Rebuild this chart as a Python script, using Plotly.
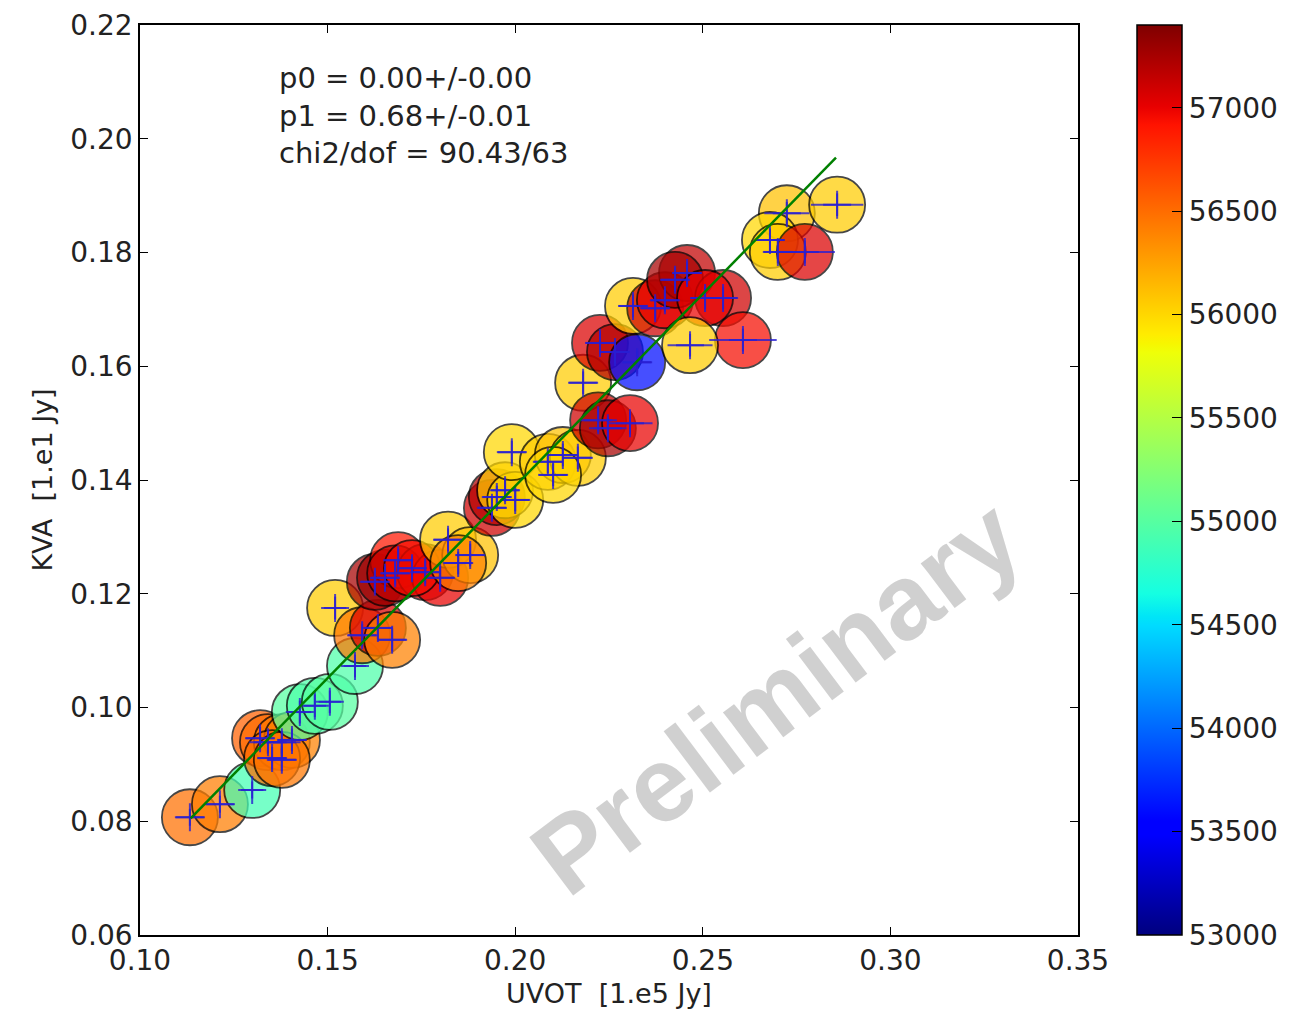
import plotly.graph_objects as go

# ---- data ----
uvot = [0.1133, 0.1213, 0.1299, 0.1320, 0.1341, 0.1378, 0.1405, 0.1352, 0.1378,
        0.1426, 0.1466, 0.1506, 0.1573, 0.1520, 0.1592, 0.1634, 0.1672, 0.1626,
        0.1653, 0.1688, 0.1680, 0.1760, 0.1800, 0.1725, 0.1821, 0.1880, 0.1848,
        0.1938, 0.1951, 0.1973, 0.2000, 0.1991, 0.2087, 0.2127, 0.2167, 0.2101,
        0.2181, 0.2221, 0.2247, 0.2306, 0.2226, 0.2266, 0.2325, 0.2314, 0.2373,
        0.2399, 0.2458, 0.2426, 0.2554, 0.2506, 0.2607, 0.2466, 0.2724,
        0.2679, 0.2700, 0.2772, 0.2858]
kva = [0.0807, 0.0830, 0.0855, 0.0946, 0.0939, 0.0939, 0.0943, 0.0911, 0.0908,
       0.0992, 0.1003, 0.1010, 0.1073, 0.1175, 0.1127, 0.1140, 0.1119, 0.1221,
       0.1228, 0.1259, 0.1236, 0.1238, 0.1228, 0.1245, 0.1295, 0.1268, 0.1254,
       0.1351, 0.1370, 0.1382, 0.1365, 0.1449, 0.1432, 0.1444, 0.1439, 0.1409,
       0.1571, 0.1505, 0.1491, 0.1500, 0.1641, 0.1625, 0.1607, 0.1706, 0.1702,
       0.1716, 0.1764, 0.1752, 0.1720, 0.1720, 0.1646, 0.1637, 0.1869,
       0.1822, 0.1801, 0.1801, 0.1884]
mjd = [56480, 56420, 54900, 56550, 56500, 56450, 56400, 56500, 56450,
       55000, 54950, 55000, 54950, 56050, 56450, 57050, 56400, 57250,
       57300, 56900, 57150, 57100, 57000, 56950, 56050, 56100, 56400,
       57100, 57200, 56050, 56000, 56000, 56050, 56100, 56050, 56000,
       56050, 57100, 57250, 57000, 57050, 57200, 53600, 56050, 57100,
       57000, 57150, 57250, 57100, 57000, 56950, 56050, 56100,
       56000, 56050, 57050, 56050]
uvot_err = [0.004, 0.004, 0.003, 0.004, 0.005, 0.005, 0.004, 0.004, 0.004,
            0.003, 0.003, 0.003, 0.003, 0.003, 0.004, 0.004, 0.004, 0.004,
            0.004, 0.004, 0.004, 0.004, 0.004, 0.004, 0.004, 0.004, 0.004,
            0.004, 0.004, 0.004, 0.004, 0.004, 0.004, 0.004, 0.004, 0.004,
            0.004, 0.005, 0.005, 0.006, 0.004, 0.004, 0.004, 0.004, 0.004,
            0.004, 0.004, 0.004, 0.004, 0.004, 0.009, 0.006, 0.006,
            0.004, 0.004, 0.008, 0.007]
kva_err = [0.0015] * 3 + [0.002] * 54

fit_x = [0.1135, 0.2855]
fit_y = [0.0805, 0.1967]

fit_text = "p0 = 0.00+/-0.00<br>p1 = 0.68+/-0.01<br>chi2/dof = 90.43/63"
cbar_ticks = [53000, 53500, 54000, 54500, 55000, 55500, 56000, 56500, 57000]

jet = [
    [0.0, "rgb(0,0,127)"], [0.11, "rgb(0,0,255)"], [0.125, "rgb(0,0,255)"],
    [0.34, "rgb(0,219,255)"], [0.35, "rgb(0,229,247)"], [0.375, "rgb(21,255,226)"],
    [0.64, "rgb(239,255,8)"], [0.65, "rgb(247,246,0)"], [0.66, "rgb(255,236,0)"],
    [0.89, "rgb(255,19,0)"], [0.91, "rgb(232,0,0)"], [1.0, "rgb(127,0,0)"],
]

FONT = "DejaVu Sans"
CROSS = "rgba(40,30,210,0.8)"

fig = go.Figure()

fig.add_trace(go.Scatter(
    x=uvot, y=kva, mode="markers",
    marker=dict(size=56, color=mjd, colorscale=jet, cmin=53000, cmax=57400,
                opacity=0.72, line=dict(color="black", width=1.8),
                colorbar=dict(x=1.063, xanchor="left", y=0.5, yanchor="middle",
                              len=1.0, lenmode="fraction", thickness=45,
                              outlinecolor="black", outlinewidth=1.5,
                              tickvals=cbar_ticks, ticktext=[str(t) for t in cbar_ticks],
                              ticks="inside", ticklen=10, tickcolor="black",
                              tickfont=dict(family=FONT, size=28, color="#222"),
                              ypad=0, xpad=0)),
    showlegend=False, hoverinfo="skip",
))

fig.add_trace(go.Scatter(
    x=uvot, y=kva, mode="markers",
    marker=dict(symbol="cross-thin", size=20, line=dict(color=CROSS, width=2)),
    error_x=dict(type="data", array=uvot_err, color=CROSS, thickness=2, width=0),
    error_y=dict(type="data", array=kva_err, color=CROSS, thickness=2, width=0),
    showlegend=False, hoverinfo="skip",
))

fig.add_trace(go.Scatter(
    x=fit_x, y=fit_y, mode="lines",
    line=dict(color="#008000", width=2.5),
    showlegend=False, hoverinfo="skip",
))

axis_common = dict(showline=True, linecolor="black", linewidth=1.5, mirror="ticks",
                   ticks="inside", ticklen=8, tickcolor="black", showgrid=False,
                   zeroline=False, tickfont=dict(family=FONT, size=28, color="#222"),
                   tickformat=".2f", automargin=False)

fig.update_xaxes(range=[0.10, 0.35], dtick=0.05, tick0=0.10,
                 title=dict(text="UVOT\u00a0\u00a0[1.e5 Jy]", standoff=8,
                            font=dict(family=FONT, size=27, color="#222")),
                 **axis_common)
fig.update_yaxes(range=[0.06, 0.22], dtick=0.02, tick0=0.06,
                 title=dict(text="KVA\u00a0\u00a0[1.e1 Jy]", standoff=10,
                            font=dict(family=FONT, size=27, color="#222")),
                 **axis_common)

fig.add_annotation(text=fit_text, xref="paper", yref="paper", x=0.146, y=0.963,
                   xanchor="left", yanchor="top", align="left", showarrow=False,
                   font=dict(family=FONT, size=29, color="#222"))

fig.add_annotation(text="<b>Preliminary</b>", xref="paper", yref="paper",
                   x=0.677, y=0.262, xanchor="center", yanchor="middle",
                   textangle=-37, showarrow=False,
                   font=dict(family="Liberation Sans", size=106, color="rgba(200,200,200,0.85)"))

fig.update_layout(width=1291, height=1011,
                  margin=dict(l=140, r=213, t=25, b=76, autoexpand=False),
                  paper_bgcolor="white", plot_bgcolor="white",
                  font=dict(family=FONT, color="#222"))

fig.write_html("out.html")
